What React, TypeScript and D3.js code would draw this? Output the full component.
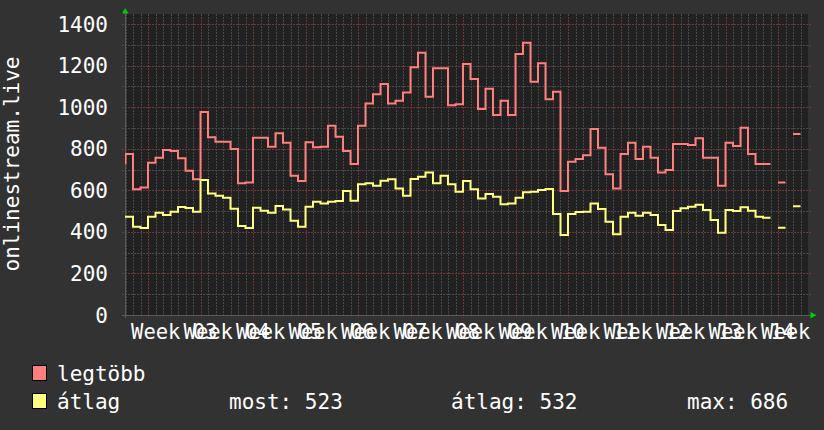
import * as d3 from "d3";
import React, { useEffect, useRef } from "react";

// day index -1 .. 89 (one value per day), null = no data
const days = d3.range(-1, 90);
const legtobb: (number | null)[] = [
  731, 774, 605, 614, 733, 757, 794, 789, 754, 694, 653, 977, 855, 834, 834, 799,
  634, 637, 853, 853, 810, 874, 829, 670, 645, 831, 807, 810, 911, 858, 789, 726,
  911, 1018, 1062, 1111, 1018, 1031, 1070, 1192, 1262, 1050, 1187, 1187, 1009, 1014, 1207, 1135,
  991, 1089, 962, 1031, 962, 1256, 1310, 1122, 1211, 1038, 1074, 597, 737, 750, 768, 895,
  805, 677, 609, 774, 829, 750, 810, 757, 685, 697, 823, 823, 818, 850, 757, 757,
  622, 829, 813, 901, 774, 726, 726, null, 637, null, 871,
];
const atlag: (number | null)[] = [
  473, 473, 425, 419, 473, 492, 481, 497, 520, 515, 497, 649, 585, 574, 564, 511,
  428, 419, 516, 502, 492, 525, 508, 454, 425, 521, 545, 537, 545, 548, 597, 550,
  629, 634, 622, 646, 653, 609, 574, 654, 665, 686, 634, 670, 629, 593, 645, 605,
  560, 582, 569, 533, 537, 564, 590, 593, 601, 606, 486, 385, 486, 495, 497, 537,
  510, 449, 388, 473, 492, 478, 492, 481, 433, 409, 500, 513, 521, 531, 505, 457,
  396, 505, 500, 518, 502, 473, 468, null, 420, null, 523,
];
const weekLabels = ["Week 03", "Week 04", "Week 05", "Week 06", "Week 07", "Week 08", "Week 09",
  "Week 10", "Week 11", "Week 12", "Week 13", "Week 14", "Week 15"];
const yTicks = [0, 200, 400, 600, 800, 1000, 1200, 1400];
const legend = [
  { name: "legtöbb", color: "#ff7f7f" },
  { name: "átlag", color: "#ffff7f" },
];
const stats = ["most: 523", "átlag: 532", "max: 686"];

const W = 824;
const H = 430;
const FONT = "'DejaVu Sans Mono', monospace";

const App: React.FC = () => {
  const svgRef = useRef<SVGSVGElement>(null);

  useEffect(() => {
    const svg = d3.select(svgRef.current);
    svg.selectAll("*").remove();

    const left = 125, right = 808, top = 14, bottom = 315;
    const x = d3.scaleLinear().domain([0, 91]).range([125.5, 808]);
    const y = d3.scaleLinear().domain([0, 1400]).range([bottom, 24]);

    svg.append("rect").attr("width", W).attr("height", H).attr("fill", "#323232");
    svg.append("rect")
      .attr("x", left).attr("y", top)
      .attr("width", right - left).attr("height", bottom - top)
      .attr("fill", "#212121");

    svg.append("clipPath").attr("id", "plot")
      .append("rect").attr("x", left).attr("y", top)
      .attr("width", right - left).attr("height", bottom - top);

    // minor / major grid
    const grid = svg.append("g").attr("shape-rendering", "crispEdges");
    d3.range(0, 91).forEach((d) => {
      const major = (d - 3) % 7 === 0;
      grid.append("line")
        .attr("x1", Math.round(x(d)) + 0.5).attr("x2", Math.round(x(d)) + 0.5)
        .attr("y1", top).attr("y2", major ? bottom + 3 : bottom)
        .attr("stroke", major ? "#6e3838" : "#484848")
        .attr("stroke-dasharray", "2,1");
    });
    d3.range(100, 1500, 100).forEach((v) => {
      const major = v % 200 === 0;
      grid.append("line")
        .attr("x1", left - 3).attr("x2", right + 3)
        .attr("y1", Math.round(y(v)) + 0.5).attr("y2", Math.round(y(v)) + 0.5)
        .attr("stroke", major ? "#6e3838" : "#484848")
        .attr("stroke-dasharray", "2,1");
    });

    // axes
    svg.append("line").attr("x1", left - 3).attr("x2", right + 3)
      .attr("y1", bottom + 0.5).attr("y2", bottom + 0.5).attr("stroke", "#5a5a5a");
    svg.append("line").attr("x1", left + 0.5).attr("x2", left + 0.5)
      .attr("y1", top - 2).attr("y2", bottom + 3).attr("stroke", "#5a5a5a");
    svg.append("path").attr("d", "M122,13.5L128.5,13.5L125.2,8Z").attr("fill", "#00d000");
    svg.append("path").attr("d", "M810.5,312L810.5,318.5L816.5,315.2Z").attr("fill", "#00d000");

    // series as steps
    const stepPts = (vals: (number | null)[]) => {
      const pts: { d: number; v: number | null }[] = [];
      days.forEach((d, i) => {
        pts.push({ d, v: vals[i] });
        pts.push({ d: d + 1, v: vals[i] });
      });
      return pts;
    };
    const line = d3.line<{ d: number; v: number | null }>()
      .defined((p) => p.v !== null)
      .x((p) => x(p.d))
      .y((p) => y(p.v as number));

    const plot = svg.append("g").attr("clip-path", "url(#plot)");
    [legtobb, atlag].forEach((vals, i) => {
      plot.append("path")
        .attr("d", line(stepPts(vals)) || "")
        .attr("fill", "none")
        .attr("stroke", legend[i].color)
        .attr("stroke-width", 2)
        .attr("stroke-linejoin", "miter");
    });

    // y labels
    svg.append("g").selectAll("text").data(yTicks).join("text")
      .attr("x", 108).attr("y", (d) => y(d) + 7.5)
      .attr("text-anchor", "end")
      .attr("font-family", FONT).attr("font-size", 21).attr("fill", "#ffffff")
      .text((d) => d);

    svg.append("text")
      .attr("transform", "translate(19,164) rotate(-90)")
      .attr("text-anchor", "middle")
      .attr("font-family", FONT).attr("font-size", 21).attr("fill", "#ffffff")
      .text("onlinestream.live");

    // x labels (centered on each week)
    svg.append("g").selectAll("text").data(weekLabels).join("text")
      .attr("x", (_, i) => x(6.5 + 7 * i)).attr("y", 338.5)
      .attr("text-anchor", "middle")
      .attr("font-family", FONT).attr("font-size", 20.5).attr("fill", "#ffffff")
      .text((d) => d);

    // legend
    const lg = svg.append("g");
    legend.forEach((l, i) => {
      const yy = 373 + i * 28;
      lg.append("rect").attr("x", 32.5).attr("y", yy - 7.5)
        .attr("width", 14).attr("height", 15)
        .attr("fill", l.color).attr("stroke", "#000");
      lg.append("text").attr("x", 57).attr("y", yy + 7.5)
        .attr("font-family", FONT).attr("font-size", 21).attr("fill", "#ffffff")
        .text(l.name);
    });
    [229, 451, 687].forEach((px, i) => {
      lg.append("text").attr("x", px).attr("y", 373 + 28 + 7.5)
        .attr("font-family", FONT).attr("font-size", 21).attr("fill", "#ffffff")
        .text(stats[i]);
    });
  }, []);

  return (
    <svg
      ref={svgRef}
      width={W}
      height={H}
      style={{ position: "absolute", left: 0, top: 0 }}
    />
  );
};

export default App;
